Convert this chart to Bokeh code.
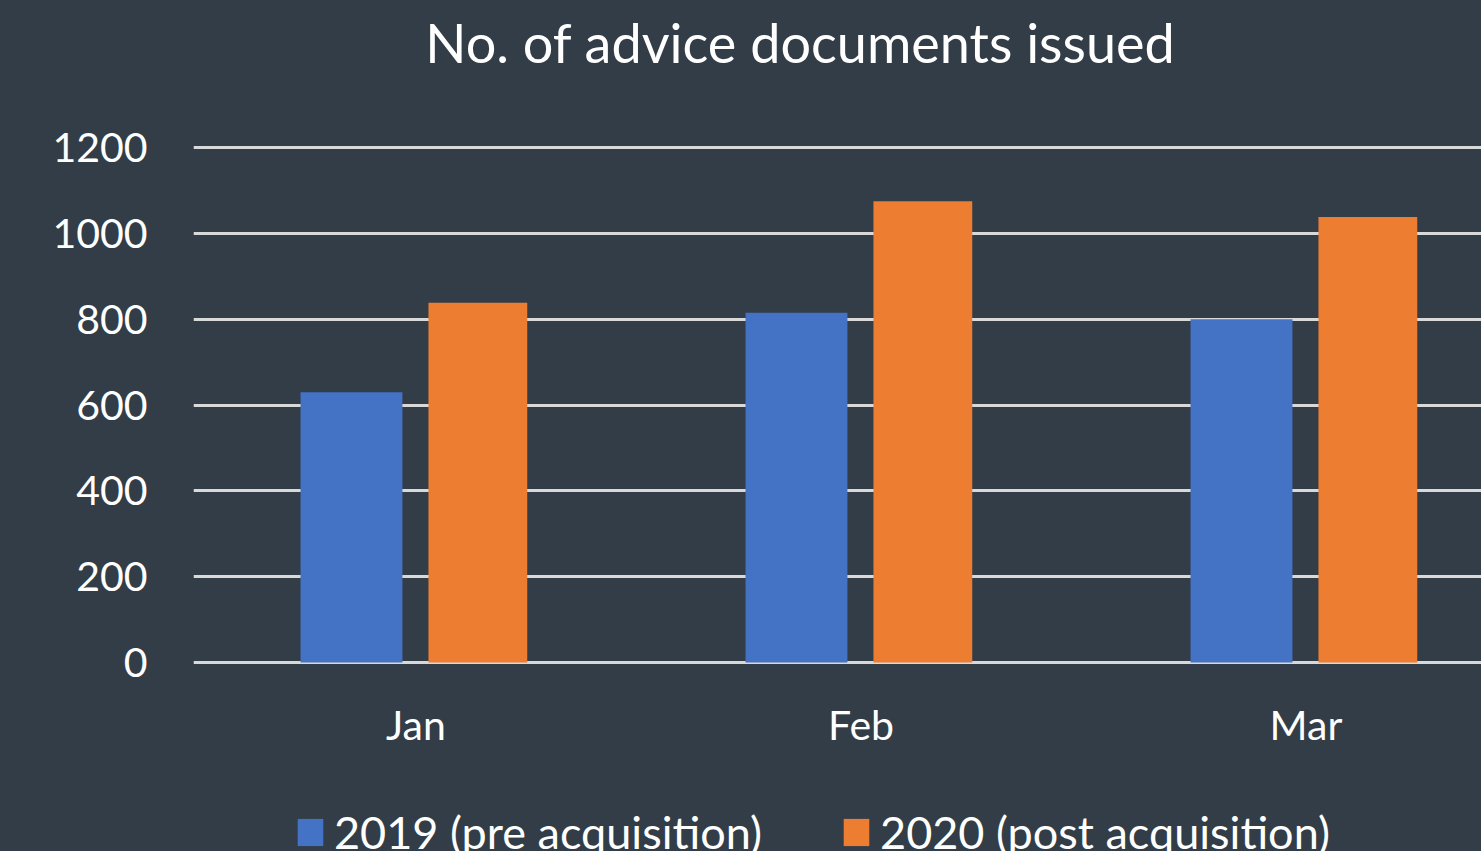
from bokeh.plotting import figure
from bokeh.models import Range1d, FixedTicker, Label, Legend, LegendItem, ColumnDataSource
from bokeh.core.properties import value
from bokeh.embed import file_html
from bokeh.resources import INLINE

# ---- data ----
months = ["Jan", "Feb", "Mar"]
series_names = ["2019 (pre acquisition)", "2020 (post acquisition)"]
values_2019 = [630, 815, 800]
values_2020 = [838, 1075, 1038]
y_ticks = [0, 200, 400, 600, 800, 1000, 1200]
title_text = "No. of advice documents issued"

# ---- style ----
BG = "#323d47"
BLUE = "#4472c4"
ORANGE = "#ed7d31"
GRID = "#d9d9d9"
FONT = "Lato"

W, H = 1481, 851
LEFT = 193
ZERO_PX = 662                 # pixel row of value 0
px_per_unit = 515 / 1200
cat_px = 445
y_start = -(H - ZERO_PX) / px_per_unit
y_end = ZERO_PX / px_per_unit
x_end = (W - LEFT) / cat_px

p = figure(width=W, height=H, output_backend="svg", toolbar_location=None,
           x_range=Range1d(0, x_end), y_range=Range1d(y_start, y_end),
           x_axis_location=None,
           min_border_left=LEFT, min_border_right=0, min_border_top=0,
           min_border_bottom=0)
p.styles = {"background-color": BG}
p.background_fill_alpha = 0
p.border_fill_alpha = 0
p.outline_line_color = None

centers = [i + 0.5 for i in range(len(months))]
src = ColumnDataSource(dict(
    x19=[c - 0.145 for c in centers], x20=[c + 0.139 for c in centers],
    v19=values_2019, v20=values_2020))

r19 = p.vbar(x="x19", top="v19", width=0.229, source=src, fill_color=BLUE, line_color=None)
r20 = p.vbar(x="x20", top="v20", width=0.222, source=src, fill_color=ORANGE, line_color=None)

# y axis
p.yaxis.ticker = FixedTicker(ticks=y_ticks)
p.yaxis.axis_line_color = None
p.yaxis.major_tick_line_color = None
p.yaxis.minor_tick_line_color = None
p.yaxis.major_label_text_color = "white"
p.yaxis.major_label_text_font = FONT
p.yaxis.major_label_text_font_size = "41px"
p.yaxis.major_label_standoff = 40

p.xgrid.grid_line_color = None
p.ygrid.grid_line_color = GRID
p.ygrid.grid_line_width = 3

# category labels (x axis)
lab_src = ColumnDataSource(dict(x=centers, y=[-62 / px_per_unit] * len(months), t=months))
p.text(x="x", y="y", text="t", source=lab_src, text_align="center",
       text_baseline="alphabetic", text_color="white", text_font=value(FONT),
       text_font_size="41px")

# title
title = Label(x=(800 - LEFT) / cat_px, y=(ZERO_PX - 42) / px_per_unit,
              text=title_text, text_align="center", text_baseline="alphabetic",
              text_color="white", text_font=FONT, text_font_size="54px")
p.add_layout(title)

# legend
legend = Legend(items=[LegendItem(label=series_names[0], renderers=[r19]),
                       LegendItem(label=series_names[1], renderers=[r20])],
                orientation="horizontal", location=(294 - LEFT, -8),
                background_fill_alpha=0, border_line_color=None,
                label_text_color="white", label_text_font=FONT,
                label_text_font_size="45px", glyph_width=32, glyph_height=34,
                label_standoff=8, spacing=78, padding=0, margin=0)
p.add_layout(legend, "center")

open("out.html", "w").write(file_html(p, INLINE))
